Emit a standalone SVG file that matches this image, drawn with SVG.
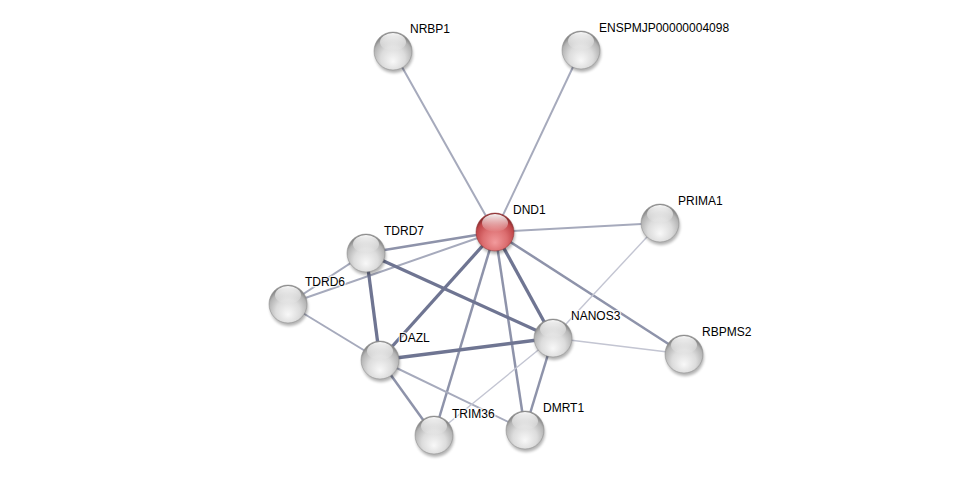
<svg xmlns="http://www.w3.org/2000/svg" width="975" height="481" viewBox="0 0 975 481">
<defs>
<radialGradient id="gs" cx="50%" cy="65%" r="58%" fx="50%" fy="78%">
<stop offset="0" stop-color="#f8f8f8"/>
<stop offset="0.55" stop-color="#dcdcdc"/>
<stop offset="0.88" stop-color="#b4b4b4"/>
<stop offset="1" stop-color="#8a8a8a"/>
</radialGradient>
<radialGradient id="rs" cx="50%" cy="65%" r="58%" fx="50%" fy="78%">
<stop offset="0" stop-color="#f29a9c"/>
<stop offset="0.55" stop-color="#dc6e70"/>
<stop offset="0.88" stop-color="#c04649"/>
<stop offset="1" stop-color="#8e2f31"/>
</radialGradient>
<linearGradient id="hl" x1="0" y1="0" x2="0" y2="1">
<stop offset="0" stop-color="#fff" stop-opacity="0.95"/>
<stop offset="1" stop-color="#fff" stop-opacity="0"/>
</linearGradient>
<filter id="sh" x="-50%" y="-50%" width="200%" height="200%">
<feGaussianBlur stdDeviation="1.6"/>
</filter>
</defs>
<style>
.e1{stroke:#c3c5d2;stroke-width:1.4;fill:none}
.e2{stroke:#a6aabc;stroke-width:2;fill:none}
.e3{stroke:#8e93aa;stroke-width:2.5;fill:none}
.e4{stroke:#6f7592;stroke-width:3.3;fill:none}
.sh{fill:#000;opacity:0.3;filter:url(#sh)}
.g{fill:url(#gs);stroke:#8a8a8a;stroke-width:0.5}
.r{fill:url(#rs);stroke:#8e2f31;stroke-width:0.5}
.h{fill:url(#hl)}
text{font-family:"Liberation Sans",Arial,sans-serif;font-size:12px;fill:#000;stroke:#fff;stroke-width:2.5;stroke-opacity:0.8;stroke-linejoin:round;paint-order:stroke}
</style>
<rect width="975" height="481" fill="#fff"/>
<g id="edges">
<line class="e2" x1="495" y1="232" x2="393" y2="51"/>
<line class="e2" x1="495" y1="232" x2="581" y2="50"/>
<line class="e2" x1="495" y1="232" x2="660" y2="223"/>
<line class="e3" x1="495" y1="232" x2="366" y2="253"/>
<line class="e2" x1="495" y1="232" x2="288" y2="304"/>
<line class="e4" x1="495" y1="232" x2="380" y2="360"/>
<line class="e4" x1="495" y1="232" x2="553" y2="338"/>
<line class="e3" x1="495" y1="232" x2="684" y2="354"/>
<line class="e3" x1="495" y1="232" x2="434" y2="435"/>
<line class="e3" x1="495" y1="232" x2="525" y2="430"/>
<line class="e2" x1="366" y1="253" x2="288" y2="304"/>
<line class="e4" x1="366" y1="253" x2="380" y2="360"/>
<line class="e4" x1="366" y1="253" x2="553" y2="338"/>
<line class="e2" x1="288" y1="304" x2="380" y2="360"/>
<line class="e4" x1="380" y1="360" x2="553" y2="338"/>
<line class="e3" x1="380" y1="360" x2="434" y2="435"/>
<line class="e2" x1="380" y1="360" x2="525" y2="430"/>
<line class="e1" x1="553" y1="338" x2="434" y2="435"/>
<line class="e3" x1="553" y1="338" x2="525" y2="430"/>
<line class="e1" x1="553" y1="338" x2="684" y2="354"/>
<line class="e1" x1="553" y1="338" x2="660" y2="223"/>
</g>
<g id="NRBP1"><circle class="sh" cx="394" cy="54" r="19"/><circle class="g" cx="393" cy="51" r="19"/><ellipse class="h" cx="393" cy="42" rx="13" ry="9"/><text x="410" y="33">NRBP1</text></g>
<g id="ENSPMJP00000004098"><circle class="sh" cx="582" cy="53" r="19"/><circle class="g" cx="581" cy="50" r="19"/><ellipse class="h" cx="581" cy="41" rx="13" ry="9"/><text x="599" y="32">ENSPMJP00000004098</text></g>
<g id="DND1"><circle class="sh" cx="496" cy="235" r="19"/><circle class="r" cx="495" cy="232" r="19"/><ellipse class="h" cx="495" cy="223" rx="13" ry="9"/><text x="513" y="214">DND1</text></g>
<g id="PRIMA1"><circle class="sh" cx="661" cy="226" r="19"/><circle class="g" cx="660" cy="223" r="19"/><ellipse class="h" cx="660" cy="214" rx="13" ry="9"/><text x="678" y="205">PRIMA1</text></g>
<g id="TDRD7"><circle class="sh" cx="367" cy="256" r="19"/><circle class="g" cx="366" cy="253" r="19"/><ellipse class="h" cx="366" cy="244" rx="13" ry="9"/><text x="384" y="235">TDRD7</text></g>
<g id="TDRD6"><circle class="sh" cx="289" cy="307" r="19"/><circle class="g" cx="288" cy="304" r="19"/><ellipse class="h" cx="288" cy="295" rx="13" ry="9"/><text x="305" y="286">TDRD6</text></g>
<g id="NANOS3"><circle class="sh" cx="554" cy="341" r="19"/><circle class="g" cx="553" cy="338" r="19"/><ellipse class="h" cx="553" cy="329" rx="13" ry="9"/><text x="571" y="320">NANOS3</text></g>
<g id="RBPMS2"><circle class="sh" cx="685" cy="357" r="19"/><circle class="g" cx="684" cy="354" r="19"/><ellipse class="h" cx="684" cy="345" rx="13" ry="9"/><text x="702" y="336">RBPMS2</text></g>
<g id="DAZL"><circle class="sh" cx="381" cy="363" r="19"/><circle class="g" cx="380" cy="360" r="19"/><ellipse class="h" cx="380" cy="351" rx="13" ry="9"/><text x="399" y="342">DAZL</text></g>
<g id="TRIM36"><circle class="sh" cx="435" cy="438" r="19"/><circle class="g" cx="434" cy="435" r="19"/><ellipse class="h" cx="434" cy="426" rx="13" ry="9"/><text x="452" y="418">TRIM36</text></g>
<g id="DMRT1"><circle class="sh" cx="526" cy="433" r="19"/><circle class="g" cx="525" cy="430" r="19"/><ellipse class="h" cx="525" cy="421" rx="13" ry="9"/><text x="543" y="412">DMRT1</text></g>
</svg>
